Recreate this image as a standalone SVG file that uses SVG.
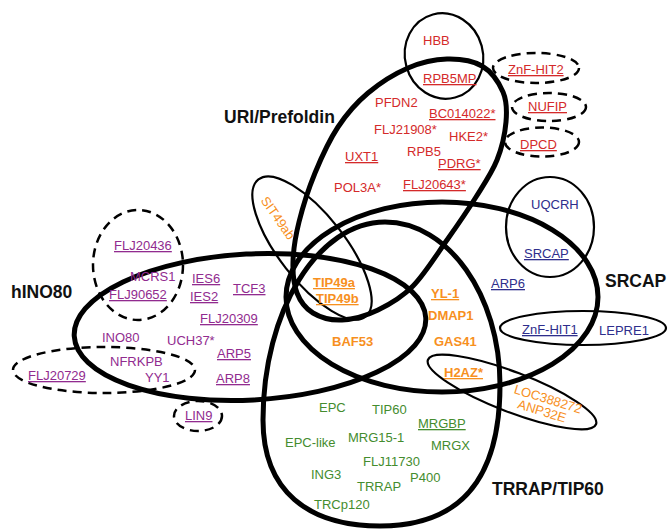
<svg xmlns="http://www.w3.org/2000/svg" width="668" height="529" viewBox="0 0 668 529">
<style>
text{font-family:"Liberation Sans",Arial,sans-serif;font-size:13px}
.b{font-weight:bold}
.lbl{font-weight:bold;font-size:17.5px;fill:#111}
.u{text-decoration:underline}
.r{fill:#d42a2a}.o{fill:#f7901e}.p{fill:#912b8f}.bl{fill:#2e2e8c}.g{fill:#448c2e}
.thick{fill:none;stroke:#000;stroke-width:5}
.thin{fill:none;stroke:#000;stroke-width:2.2}
.dash{fill:none;stroke:#000;stroke-width:2.5;stroke-dasharray:9 6}
</style>
<rect width="668" height="529" fill="#fff"/>
<g id="connectors"/>
<g id="hINO80">
<ellipse class="thick" cx="250" cy="327" rx="176" ry="73" transform="rotate(-3 250 327)"/>
<text class="lbl" x="11" y="298">hINO80</text>
</g>
<g id="SRCAP-complex">
<ellipse class="thick" cx="442" cy="297" rx="156" ry="95"/>
<text class="lbl" x="605" y="287">SRCAP</text>
</g>
<g id="URI-Prefoldin">
<path class="thick" d="M447,59 C459.3,58.7 472.7,60.5 482,66 C491.3,71.5 499,82.7 503,92 C507,101.3 507,110.7 506,122 C505,133.3 502,147.5 497,160 C492,172.5 484.3,183.7 476,197 C467.7,210.3 457.5,225.2 447,240 C436.5,254.8 424.5,274.3 413,286 C401.5,297.7 389.8,304.3 378,310 C366.2,315.7 352.8,319.5 342,320 C331.2,320.5 320.5,317.5 313,313 C305.5,308.5 300.3,301.5 297,293 C293.7,284.5 292.7,273.8 293,262 C293.3,250.2 295.3,236.8 299,222 C302.7,207.2 308.5,188.8 315,173 C321.5,157.2 329.2,140.3 338,127 C346.8,113.7 356.3,102.8 368,93 C379.7,83.2 394.8,73.7 408,68 C421.2,62.3 434.7,59.3 447,59 Z"/>
<text class="lbl" x="224" y="123">URI/Prefoldin</text>
</g>
<g id="TRRAP-TIP60">
<path class="thick" d="M385,222 C448,222 500,295 500,385 C500,482 458,526 380,526 C308,526 263,491 263,420 C263,311 318,222 385,222 Z"/>
<text class="lbl" x="492" y="495">TRRAP/TIP60</text>
</g>
<g id="HBB-group">
<ellipse class="thin" cx="444" cy="56" rx="39" ry="43" transform="rotate(-15 444 56)"/>
</g>
<g id="UQCRH-group">
<ellipse class="thin" cx="550" cy="227" rx="44" ry="50"/>
</g>
<g id="ZnF-HIT1-group">
<ellipse class="thin" cx="583" cy="328" rx="83" ry="17"/>
</g>
<g id="ANP32E-group">
<ellipse class="thin" cx="512" cy="392" rx="90" ry="20" transform="rotate(21 512 392)"/>
</g>
<g id="SIT49ab-group">
<ellipse class="thin" cx="312" cy="248" rx="87" ry="33" transform="rotate(52 312 248)"/>
</g>
<g id="FLJ20436-group"><ellipse class="dash" cx="138" cy="265" rx="45" ry="55"/></g>
<g id="FLJ20729-group"><ellipse class="dash" cx="104" cy="370" rx="91" ry="23"/></g>
<g id="LIN9-group"><ellipse class="dash" cx="198" cy="416" rx="24" ry="15"/></g>
<g id="ZnF-HIT2-group"><ellipse class="dash" cx="536" cy="68" rx="43" ry="15"/></g>
<g id="NUFIP-group"><ellipse class="dash" cx="549" cy="107" rx="37" ry="14"/></g>
<g id="DPCD-group"><ellipse class="dash" cx="542" cy="142" rx="37" ry="14.5"/></g>
<g id="uri-proteins">
<text class="r" x="423" y="45">HBB</text>
<text class="r u" x="423" y="83">RPB5MP</text>
<text class="r u" x="508" y="74">ZnF-HIT2</text>
<text class="r u" x="528" y="111">NUFIP</text>
<text class="r u" x="520" y="149">DPCD</text>
<text class="r" x="375" y="107">PFDN2</text>
<text class="r u" x="429" y="118">BC014022*</text>
<text class="r" x="374" y="134">FLJ21908*</text>
<text class="r" x="449" y="141">HKE2*</text>
<text class="r u" x="345" y="161">UXT1</text>
<text class="r" x="407" y="156">RPB5</text>
<text class="r u" x="438" y="168">PDRG*</text>
<text class="r" x="334" y="192">POL3A*</text>
<text class="r u" x="403" y="189">FLJ20643*</text>
</g>
<g id="ino80-proteins">
<text class="p u" x="114" y="250">FLJ20436</text>
<text class="p" x="130" y="281">MCRS1</text>
<text class="p u" x="109" y="299">FLJ90652</text>
<text class="p u" x="192" y="283">IES6</text>
<text class="p u" x="190" y="301">IES2</text>
<text class="p u" x="233" y="293">TCF3</text>
<text class="p u" x="200" y="323">FLJ20309</text>
<text class="p" x="102" y="342">INO80</text>
<text class="p" x="167" y="345">UCH37*</text>
<text class="p" x="110" y="366">NFRKPB</text>
<text class="p" x="145" y="382">YY1</text>
<text class="p u" x="217" y="358">ARP5</text>
<text class="p u" x="216" y="383">ARP8</text>
<text class="p u" x="28" y="380">FLJ20729</text>
<text class="p u" x="185" y="420">LIN9</text>
</g>
<g id="srcap-proteins">
<text class="bl" x="531" y="209">UQCRH</text>
<text class="bl u" x="524" y="258">SRCAP</text>
<text class="bl u" x="491" y="288">ARP6</text>
<text class="bl u" x="522" y="334">ZnF-HIT1</text>
<text class="bl" x="599" y="335">LEPRE1</text>
</g>
<g id="shared-proteins">
<text class="o b u" x="313" y="287">TIP49a</text>
<text class="o b u" x="316" y="303">TIP49b</text>
<text class="o b u" x="431" y="298">YL-1</text>
<text class="o b" x="428" y="320">DMAP1</text>
<text class="o b" x="434" y="346">GAS41</text>
<text class="o b" x="332" y="346">BAF53</text>
<text class="o b u" x="444" y="377">H2AZ*</text>
<text class="o" text-anchor="middle" dy="4.5" transform="translate(278 218) rotate(55)">SIT49ab</text>
<text class="o" text-anchor="middle" dy="4.5" transform="translate(548 399) rotate(17)">LOC388272</text>
<text class="o" text-anchor="middle" dy="4.5" transform="translate(542 411) rotate(17)">ANP32E</text>
</g>
<g id="tip60-proteins">
<text class="g" x="319" y="412">EPC</text>
<text class="g" x="372" y="414">TIP60</text>
<text class="g u" x="418" y="428">MRGBP</text>
<text class="g" x="285" y="447">EPC-like</text>
<text class="g" x="348" y="442">MRG15-1</text>
<text class="g" x="431" y="450">MRGX</text>
<text class="g" x="363" y="466">FLJ11730</text>
<text class="g" x="311" y="479">ING3</text>
<text class="g" x="410" y="482">P400</text>
<text class="g" x="357" y="491">TRRAP</text>
<text class="g" x="314" y="509">TRCp120</text>
</g>
</svg>
